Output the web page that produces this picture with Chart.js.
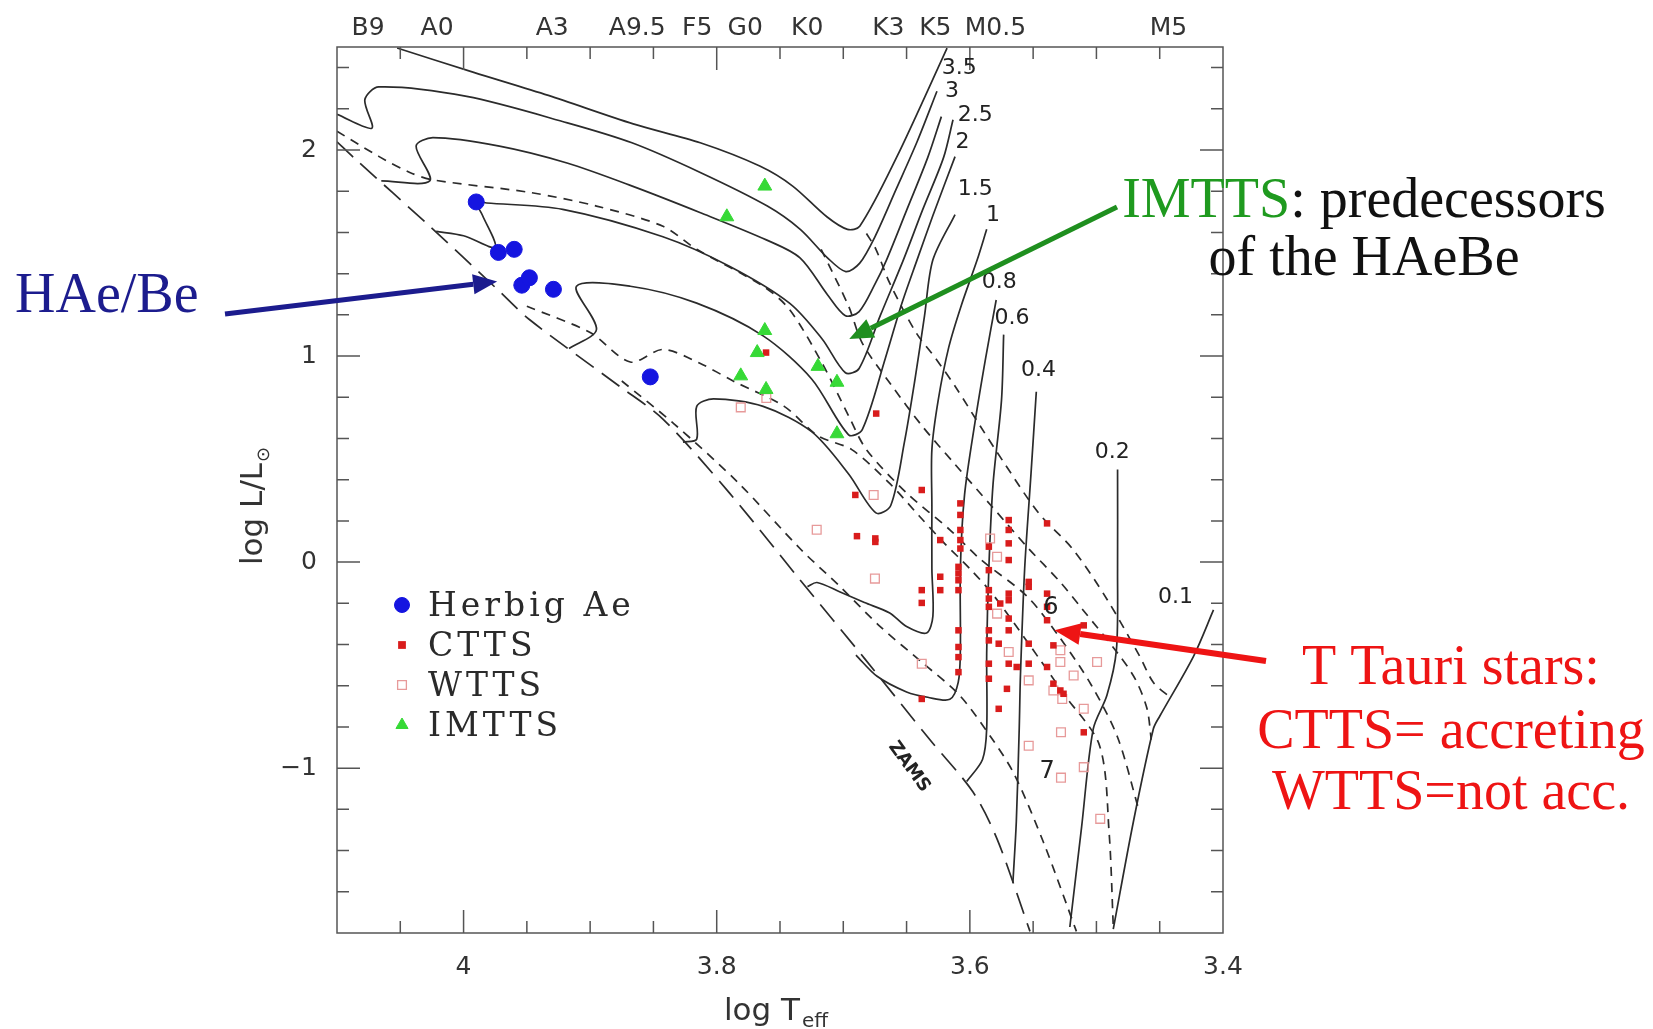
<!DOCTYPE html>
<html>
<head>
<meta charset="utf-8">
<title>HR diagram</title>
<script src="https://cdn.jsdelivr.net/npm/chart.js"></script>
<style>
  html, body { margin: 0; padding: 0; background: #fff; }
  canvas { display: block; }
</style>
</head>
<body>
<canvas id="hrd" width="1653" height="1029"></canvas>
<script>
// Axis ticks
const xTickValues = [4.0, 3.8, 3.6, 3.4];
const yTickValues = [2, 1, 0, -1];
const spectralTypes = ['B9', 'A0', 'A3', 'A9.5', 'F5', 'G0', 'K0', 'K3', 'K5', 'M0.5', 'M5'];
const spectralTeff = [4.0755, 4.0209, 3.93, 3.8628, 3.8154, 3.7775, 3.7285, 3.6644, 3.6273, 3.5798, 3.4431];

// Stars: [log Teff, log L]
const herbigAe = [[3.990, 1.748], [3.9725, 1.503], [3.960, 1.518], [3.954, 1.344], [3.948, 1.380], [3.929, 1.324], [3.8525, 0.899]];
const imtts = [[3.762, 1.825], [3.792, 1.676], [3.762, 1.124], [3.768, 1.017], [3.781, 0.904], [3.761, 0.838], [3.720, 0.950], [3.705, 0.873], [3.705, 0.623]];
const ctts = [
  [3.761, 1.017], [3.674, 0.721], [3.6905, 0.326], [3.638, 0.350], [3.6075, 0.285], [3.6892, 0.126], [3.6747, 0.115],
  [3.6747, 0.098], [3.6234, 0.107], [3.6075, 0.229], [3.6075, 0.156], [3.6075, 0.107], [3.6075, 0.066], [3.5693, 0.204],
  [3.5693, 0.156], [3.5693, 0.091], [3.539, 0.188], [3.585, 0.075], [3.5693, 0.010], [3.6234, -0.071], [3.6234, -0.136],
  [3.638, -0.136], [3.638, -0.198], [3.609, -0.023], [3.609, -0.055], [3.609, -0.088], [3.609, -0.136], [3.585, -0.039],
  [3.585, -0.136], [3.585, -0.177], [3.585, -0.217], [3.5693, -0.153], [3.5693, -0.185], [3.576, -0.201], [3.5535, -0.096],
  [3.5535, -0.120], [3.539, -0.153], [3.539, -0.217], [3.539, -0.282], [3.510, -0.307], [3.5693, -0.274], [3.5693, -0.331],
  [3.585, -0.331], [3.585, -0.380], [3.5772, -0.396], [3.609, -0.331], [3.609, -0.412], [3.609, -0.461], [3.609, -0.534],
  [3.585, -0.493], [3.585, -0.566], [3.5693, -0.493], [3.563, -0.509], [3.5535, -0.396], [3.5535, -0.493], [3.539, -0.509],
  [3.534, -0.404], [3.534, -0.590], [3.5285, -0.623], [3.526, -0.639], [3.5707, -0.615], [3.5772, -0.712], [3.638, -0.664],
  [3.510, -0.826]
];
const wtts = [
  [3.7608, 0.797], [3.781, 0.751], [3.721, 0.157], [3.676, 0.326], [3.675, -0.080], [3.584, 0.115], [3.5785, 0.026],
  [3.5785, -0.250], [3.5693, -0.436], [3.5535, -0.574], [3.5285, -0.428], [3.5285, -0.485], [3.518, -0.550], [3.534, -0.623],
  [3.527, -0.664], [3.510, -0.712], [3.528, -0.826], [3.4995, -0.485], [3.5535, -0.891], [3.638, -0.493], [3.510, -0.995],
  [3.528, -1.046], [3.497, -1.246]
];

// Evolutionary tracks (solid), from the ZAMS end back up the Hayashi line
const track35 = [[4.0525, 2.495], [3.992, 2.377], [3.933, 2.265], [3.866, 2.127], [3.813, 2.035], [3.766, 1.922], [3.74, 1.825], [3.713, 1.676], [3.6967, 1.615], [3.687, 1.630], [3.658, 1.963], [3.618, 2.495]];
const track30 = [[4.1, 2.173], [4.0725, 2.106], [4.078, 2.244], [4.067, 2.306], [3.9975, 2.260], [3.918, 2.132], [3.867, 2.035], [3.813, 1.891], [3.76, 1.728], [3.734, 1.615], [3.7125, 1.477], [3.698, 1.410], [3.687, 1.451], [3.675, 1.579], [3.6583, 1.809], [3.6417, 2.040], [3.626, 2.285]];
const track25 = [[4.065, 1.850], [4.0267, 1.850], [4.0375, 2.019], [4.0242, 2.060], [3.9717, 2.019], [3.9183, 1.937], [3.8667, 1.825], [3.8133, 1.697], [3.7608, 1.564], [3.7342, 1.477], [3.7125, 1.298], [3.6983, 1.196], [3.6875, 1.216], [3.675, 1.349], [3.6658, 1.467], [3.65, 1.707], [3.6333, 1.963], [3.6225, 2.162]];
const track20 = [[4.0217, 1.605], [4.0, 1.584], [3.975, 1.528], [3.985, 1.682], [3.99, 1.748], [3.9817, 1.743], [3.9217, 1.712], [3.8425, 1.579], [3.79, 1.436], [3.7425, 1.257], [3.7167, 1.083], [3.6983, 0.919], [3.6875, 0.940], [3.6708, 1.196], [3.6525, 1.467], [3.6375, 1.707], [3.6208, 1.963], [3.6133, 2.147]];
const track15 = [[3.9167, 1.037], [3.895, 1.129], [3.9108, 1.339], [3.8683, 1.339], [3.8158, 1.257], [3.7633, 1.098], [3.725, 0.889], [3.6958, 0.618], [3.685, 0.643], [3.6667, 0.991], [3.6542, 1.247], [3.6417, 1.467], [3.6292, 1.682], [3.6117, 1.968]];
const track10 = [[3.8267, 0.582], [3.8158, 0.597], [3.8158, 0.756], [3.8025, 0.792], [3.7633, 0.756], [3.725, 0.633], [3.6958, 0.428], [3.6742, 0.239], [3.6625, 0.275], [3.6517, 0.582], [3.6433, 0.889], [3.6358, 1.196], [3.6292, 1.467], [3.6117, 1.687]];
const track08 = [[3.7283, -0.119], [3.7208, -0.099], [3.7025, -0.145], [3.6833, -0.196], [3.6633, -0.247], [3.65, -0.313], [3.6342, -0.344], [3.6292, -0.262], [3.63, -0.032], [3.63, 0.275], [3.63, 0.546], [3.625, 0.786], [3.6167, 1.042], [3.6067, 1.247], [3.5942, 1.467], [3.5867, 1.615]];
const track06 = [[3.69, -0.451], [3.6733, -0.554], [3.65, -0.630], [3.6333, -0.656], [3.6158, -0.666], [3.6092, -0.584], [3.6075, -0.426], [3.6075, -0.032], [3.6042, 0.326], [3.5958, 0.684], [3.5875, 0.991], [3.5792, 1.272]];
const track04 = [[3.6025, -1.065], [3.59, -0.958], [3.5867, -0.809], [3.5867, -0.441], [3.585, -0.032], [3.5817, 0.377], [3.575, 0.786], [3.5733, 1.104]];
const track03 = [[3.566, -1.556], [3.5633, -1.26], [3.561, -0.809], [3.56, -0.544], [3.5567, -0.032], [3.5517, 0.428], [3.5475, 0.827]];
const track02 = [[3.521, -1.771], [3.5117, -1.285], [3.5025, -0.809], [3.4917, -0.646], [3.4842, -0.426], [3.4833, -0.032], [3.4833, 0.449]];
const track01 = [[3.4867, -1.781], [3.4708, -1.26], [3.455, -0.809], [3.45, -0.748], [3.4233, -0.457], [3.4075, -0.232]];
const tracks = [track35, track30, track25, track20, track15, track10, track08, track06, track04, track03, track02, track01];

// Isochrones (short dashes), young to old
const iso1 = [[3.6817, 1.595], [3.6742, 1.518], [3.6633, 1.354], [3.6425, 1.114], [3.6267, 0.986], [3.61, 0.838], [3.5917, 0.659], [3.5733, 0.485], [3.5458, 0.239], [3.5183, 0.060], [3.4917, -0.180], [3.4658, -0.457], [3.455, -0.584], [3.4417, -0.656]];
const iso2 = [[3.7175, 1.518], [3.6958, 1.242], [3.685, 1.063], [3.6625, 0.863], [3.6375, 0.659], [3.6125, 0.480], [3.5833, 0.275], [3.5542, 0.070], [3.5292, -0.093], [3.5108, -0.231], [3.4833, -0.441], [3.4692, -0.569], [3.46, -0.712], [3.4567, -0.861]];
const iso3 = [[4.1, 2.091], [4.0667, 1.968], [4.0425, 1.891], [4.0242, 1.855], [3.9475, 1.794], [3.895, 1.728], [3.8425, 1.630], [3.8158, 1.518], [3.7633, 1.339], [3.7425, 1.226], [3.7167, 0.965], [3.6958, 0.710], [3.6817, 0.546], [3.65, 0.336], [3.6158, 0.157], [3.5917, 0.014], [3.555, -0.165], [3.5292, -0.364], [3.5042, -0.595], [3.4833, -0.850], [3.4667, -1.198]];
const iso4 = [[3.95, 1.242], [3.9, 1.114], [3.8683, 0.971], [3.8425, 1.032], [3.8133, 0.965], [3.7867, 0.878], [3.7467, 0.756], [3.72, 0.613], [3.6933, 0.546], [3.6642, 0.387], [3.64, 0.224], [3.6208, 0.096], [3.5992, -0.037], [3.5808, -0.165], [3.5542, -0.390], [3.525, -0.646], [3.4975, -0.891], [3.49, -1.311], [3.4867, -1.766]];
const iso5 = [[3.875, 0.879], [3.8333, 0.669], [3.7833, 0.387], [3.7333, 0.060], [3.7025, -0.119], [3.6708, -0.313], [3.6367, -0.492], [3.6083, -0.645], [3.5833, -0.850], [3.565, -1.029], [3.5417, -1.362], [3.5158, -1.792]];
const isochrones = [iso1, iso2, iso3, iso4, iso5];

// Zero-age main sequence (long dashes)
const zams = [[4.1, 2.040], [4.085, 1.953], [4.0267, 1.630], [3.9742, 1.329], [3.9475, 1.175], [3.8767, 0.853], [3.8425, 0.694], [3.79, 0.336], [3.7333, -0.093], [3.6833, -0.467], [3.6317, -0.861], [3.5975, -1.116], [3.5783, -1.347], [3.5525, -1.792]];

// Mass labels at the top of the Hayashi lines
const massLabels = ['3.5', '3', '2.5', '2', '1.5', '1', '0.8', '0.6', '0.4', '0.2', '0.1'];
const massLabelAt = [[3.6083, 2.398], [3.6142, 2.285], [3.5958, 2.168], [3.6058, 2.040], [3.5958, 1.809], [3.5817, 1.682], [3.5767, 1.359], [3.5667, 1.185], [3.5458, 0.930], [3.4875, 0.531], [3.4375, -0.170]];

const toXY = pts => pts.map(p => ({ x: p[0], y: p[1] }));
const INK = '#2b2b2b';

const lineSet = (pts, dash) => ({
  data: toXY(pts), showLine: true, pointRadius: 0, borderColor: INK, borderWidth: 1.7,
  borderDash: dash, tension: 0.3, fill: false, order: 10
});

const datasets = [
  { label: 'Herbig Ae', data: toXY(herbigAe), pointStyle: 'circle', pointRadius: 8, backgroundColor: '#1515e0', borderColor: '#1515e0', borderWidth: 1, order: 1 },
  { label: 'CTTS', data: toXY(ctts), pointStyle: 'rect', pointRadius: 4.6, backgroundColor: '#d91c1c', borderColor: '#d91c1c', borderWidth: 0, order: 2 },
  { label: 'WTTS', data: toXY(wtts), pointStyle: 'rect', pointRadius: 6.2, backgroundColor: 'rgba(255,255,255,0)', borderColor: '#e79a9a', borderWidth: 1.3, order: 3 },
  { label: 'IMTTS', data: toXY(imtts), pointStyle: 'triangle', pointRadius: 8, backgroundColor: '#36d936', borderColor: '#36d936', borderWidth: 1, order: 0 },
  ...tracks.map(t => lineSet(t, [])),
  ...isochrones.map(t => lineSet(t, [9, 7])),
  lineSet(zams, [22, 10])
];

function arrow(ctx, x0, y0, x1, y1, color, width, head) {
  const ang = Math.atan2(y1 - y0, x1 - x0);
  const bx = x1 - head * Math.cos(ang), by = y1 - head * Math.sin(ang);
  ctx.strokeStyle = color;
  ctx.lineWidth = width;
  ctx.beginPath(); ctx.moveTo(x0, y0); ctx.lineTo(bx, by); ctx.stroke();
  ctx.fillStyle = color;
  ctx.beginPath();
  ctx.moveTo(x1, y1);
  ctx.lineTo(bx + head * 0.42 * Math.sin(ang), by - head * 0.42 * Math.cos(ang));
  ctx.lineTo(bx - head * 0.42 * Math.sin(ang), by + head * 0.42 * Math.cos(ang));
  ctx.closePath(); ctx.fill();
}

const decorations = {
  id: 'decorations',
  afterDatasetsDraw(chart) {
    const { ctx, chartArea: a, scales: { x, y } } = chart;
    ctx.save();

    // frame and inward ticks on all four sides
    ctx.strokeStyle = '#555';
    ctx.lineWidth = 1.5;
    ctx.strokeRect(a.left, a.top, a.right - a.left, a.bottom - a.top);
    ctx.beginPath();
    for (let v = 3.45; v < 4.09; v += 0.05) {
      const px = x.getPixelForValue(v);
      const major = Math.abs(v * 5 - Math.round(v * 5)) < 1e-6;
      const len = major ? 23 : 12;
      ctx.moveTo(px, a.bottom); ctx.lineTo(px, a.bottom - len);
      ctx.moveTo(px, a.top); ctx.lineTo(px, a.top + len);
    }
    for (let v = -1.6; v < 2.45; v += 0.2) {
      const py = y.getPixelForValue(v);
      const major = Math.abs(v - Math.round(v)) < 1e-6;
      const len = major ? 23 : 12;
      ctx.moveTo(a.left, py); ctx.lineTo(a.left + len, py);
      ctx.moveTo(a.right, py); ctx.lineTo(a.right - len, py);
    }
    ctx.stroke();

    // mass labels
    ctx.fillStyle = '#222';
    ctx.font = '22px "DejaVu Sans"';
    ctx.textAlign = 'center';
    ctx.textBaseline = 'middle';
    massLabels.forEach((t, i) => {
      ctx.fillText(t, x.getPixelForValue(massLabelAt[i][0]), y.getPixelForValue(massLabelAt[i][1]));
    });
    ctx.font = '24px "DejaVu Sans"';
    ctx.fillText('6', x.getPixelForValue(3.536), y.getPixelForValue(-0.221));
    ctx.fillText('7', x.getPixelForValue(3.539), y.getPixelForValue(-1.019));

    // ZAMS label along the line
    ctx.save();
    ctx.translate(x.getPixelForValue(3.648), y.getPixelForValue(-0.994));
    ctx.rotate(Math.PI * 0.3);
    ctx.font = 'bold 18px "DejaVu Sans"';
    ctx.fillText('ZAMS', 0, 0);
    ctx.restore();

    // legend inside the frame, markers styled like their datasets
    const legend = [
      { text: 'Herbig Ae', ds: datasets[0], r: 7.5 },
      { text: 'CTTS', ds: datasets[1], r: 5.5 },
      { text: 'WTTS', ds: datasets[2], r: 6.2 },
      { text: 'IMTTS', ds: datasets[3], r: 7 }
    ];
    ctx.textAlign = 'left';
    ctx.textBaseline = 'alphabetic';
    legend.forEach((e, i) => {
      const ly = 605 + i * 40;
      ctx.fillStyle = e.ds.backgroundColor;
      ctx.strokeStyle = e.ds.borderColor;
      ctx.lineWidth = e.ds.borderWidth;
      Chart.helpers.drawPoint(ctx, {
        pointStyle: e.ds.pointStyle, radius: e.r, borderWidth: e.ds.borderWidth, rotation: 0
      }, 402, ly);
      ctx.fillStyle = '#2a2a2a';
      ctx.font = '33px "DejaVu Serif"';
      ctx.letterSpacing = '4px';
      ctx.fillText(e.text, 428, ly + 11);
      ctx.letterSpacing = '0px';
    });

    // axis titles
    ctx.fillStyle = '#333';
    ctx.font = '31px "DejaVu Sans"';
    ctx.textAlign = 'left';
    ctx.fillText('log T', 724, 1020);
    const wT = ctx.measureText('log T').width;
    ctx.font = '20px "DejaVu Sans"';
    ctx.fillText('eff', 726 + wT, 1027);

    ctx.save();
    ctx.translate(262, 565);
    ctx.rotate(-Math.PI / 2);
    ctx.font = '31px "DejaVu Sans"';
    ctx.fillText('log L/L', 0, 0);
    const wL = ctx.measureText('log L/L').width;
    ctx.font = '18px "DejaVu Sans"';
    ctx.fillText('\u2299', wL + 1, 7);
    ctx.restore();

    // annotations
    ctx.font = '56px "Liberation Serif"';
    ctx.textAlign = 'left';
    ctx.fillStyle = '#1c1c8e';
    ctx.fillText('HAe/Be', 15, 312);
    arrow(ctx, 225, 314, x.getPixelForValue(3.9735), y.getPixelForValue(1.362), '#1c1c8e', 5, 24);

    const w1 = ctx.measureText('IMTTS: predecessors').width;
    const wI = ctx.measureText('IMTTS').width;
    ctx.fillStyle = '#1f9a1f';
    ctx.fillText('IMTTS', 1364 - w1 / 2, 217);
    ctx.fillStyle = '#111';
    ctx.fillText(': predecessors', 1364 - w1 / 2 + wI, 217);
    ctx.textAlign = 'center';
    ctx.fillText('of the HAeBe', 1364, 275);
    arrow(ctx, 1117, 207, x.getPixelForValue(3.6953), y.getPixelForValue(1.083), '#1f8f1f', 5, 24);

    ctx.fillStyle = '#ee1414';
    ctx.fillText('T Tauri stars:', 1451, 684);
    ctx.fillText('CTTS= accreting', 1451, 748);
    ctx.fillText('WTTS=not acc.', 1451, 809);
    arrow(ctx, 1266, 661, x.getPixelForValue(3.5332), y.getPixelForValue(-0.331), '#ee1414', 6, 26);

    ctx.restore();
  }
};

const tickFont = { family: 'DejaVu Sans', size: 25 };

new Chart(document.getElementById('hrd'), {
  type: 'scatter',
  data: { datasets },
  options: {
    responsive: false,
    animation: false,
    devicePixelRatio: 1,
    layout: { padding: { left: 0, top: 0, right: 430, bottom: 0 } },
    plugins: { legend: { display: false }, tooltip: { enabled: false } },
    scales: {
      x: {
        type: 'linear', position: 'bottom', reverse: true, min: 3.4, max: 4.1,
        afterFit: s => { s.height = 96; },
        afterBuildTicks: s => { s.ticks = xTickValues.map(v => ({ value: v })); },
        ticks: { font: tickFont, color: '#333', padding: 19, maxRotation: 0, autoSkip: false, callback: v => String(Math.round(v * 10) / 10) },
        grid: { display: false, drawTicks: false },
        border: { display: false }
      },
      xTop: {
        type: 'linear', position: 'top', reverse: true, min: 3.4, max: 4.1,
        afterFit: s => { s.height = 47; },
        afterBuildTicks: s => { s.ticks = spectralTeff.map(v => ({ value: v })); },
        ticks: { font: tickFont, color: '#333', padding: 4, maxRotation: 0, autoSkip: false, callback: (v, i) => spectralTypes[i] },
        grid: { display: false, drawTicks: false },
        border: { display: false }
      },
      y: {
        type: 'linear', position: 'left', min: -1.8, max: 2.5,
        afterFit: s => { s.width = 337; },
        afterBuildTicks: s => { s.ticks = yTickValues.map(v => ({ value: v })); },
        ticks: { font: tickFont, color: '#333', padding: 20, callback: v => (v < 0 ? '\u2212' + Math.abs(v) : String(v)) },
        grid: { display: false, drawTicks: false },
        border: { display: false }
      }
    }
  },
  plugins: [decorations]
});
</script>
</body>
</html>
